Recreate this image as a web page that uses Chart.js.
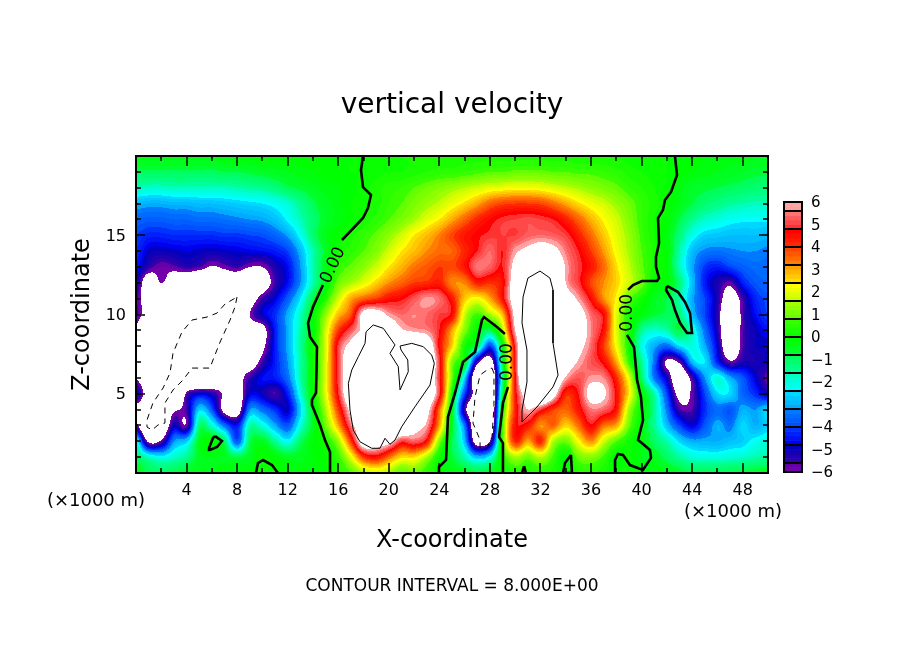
<!DOCTYPE html>
<html><head><meta charset="utf-8">
<script src="https://cdn.jsdelivr.net/npm/chart.js@4"></script>
<style>html,body{margin:0;padding:0;background:#fff}canvas{position:absolute}</style>
</head><body>
<canvas id="main" width="904" height="654" style="left:0;top:0"></canvas>
<canvas id="bar" width="134" height="310" style="left:770px;top:180px"></canvas>
<script>
const FONT='"DejaVu Sans"';
const xTickValues=[4,8,12,16,20,24,28,32,36,40,44,48];
const zTickValues=[5,10,15];
const barTickValues=[6,5,4,3,2,1,0,-1,-2,-3,-4,-5,-6];
const barLevels=[6,5.6,4.8,4,3.2,2.4,1.6,0.8,0,-0.8,-1.6,-2.4,-3.2,-4,-4.8,-5.6,-6];
// colour per box of the scale: [top colour, bottom colour]
const barBoxes=[
 [[255,165,165],[255,160,160]],[[255,115,115],[255,50,50]],[[255,0,0],[255,40,0]],[[255,70,0],[255,125,0]],
 [[255,160,0],[255,220,0]],[[255,255,0],[200,255,0]],[[160,255,0],[100,255,0]],[[55,255,0],[10,255,0]],
 [[0,255,0],[0,255,45]],[[0,255,90],[0,255,150]],[[0,255,190],[0,255,255]],[[0,215,255],[0,170,255]],
 [[0,120,255],[0,80,255]],[[0,50,255],[0,0,240]],[[0,0,190],[50,0,170]],[[100,0,170],[115,0,170]]];

const z00=[-.4,-.9,-1,-.8,-.6,-.4,-.4,-.3,-.4,-.2, .1,.1,-.2,-.3,-.2,0,.4,.8,1.5,1.8, 1.5,.8,1,.5,0,-.3,-.5,-.7,-.5,0, .5,.3,.5,.3,0,.4,.5,.2,0,.1, -.2,-.2,-.4,-.6,-.8,-.8,-.8,-.8,-.7,-.6,-.5];
const z01=[-1,-1.8,-2.2,-1.8,-1.4,-.5,-.4,-.5,-.8,-.5, .1,-.2,-.5,-.5,-.2,0,.6,2,4,4.5, 3.5,2.5,2.5,1.5,.1,-.7,-1.6,-2.8,-2.2,.3, 1.5,1,1.6,.7,-.1,1,1.2,.7,-.1,.1, -.4,-.5,-1,-1.5,-1.9,-2,-2,-1.9,-1.8,-1.6,-1.5];
const z02=[-2,-6.3,-5.8,-3.2,-2.6,-.5,-.1,-1,-3.8,-.9, -.5,-1.4,-2.2,-1,-.2,.3,1.4,4,7,7, 6.5,5,5.3,4.5,1.2,-.8,-2.8,-7,-6,.7, 4.2,3,4.2,1.6,1,2.2,3.2,1.8,.8,.2, -.3,-1,-1.6,-2.5,-3,-3,-3,-2.8,-2.6,-2.2,-2];
const z03=[-5.5,-9,-8,-5,-5.8,-1.2,-1.9,-3.5,-4.5,-1.6, -2,-3,-3.8,-2,-.5,1,3,5.5,7.5,9, 8.5,8,6.5,5.8,3,-.5,-3.5,-8,-8,.6, 4.5,4.4,3.2,3.6,2.6,3.5,4.7,3.5,3,1, -.2,-1.4,-2.8,-4,-4.8,-3.8,-3,-3.4,-2.5,-3,-2.6];
const z04=[-6.5,-8,-8,-6.3,-5.5,-2.6,-3.8,-6.5,-7,-3.2, -3.5,-4.2,-4.9,-2.6,-.4,1.5,4,6.5,9,9, 9,8,6.8,6.5,3.5,-.3,-5.5,-8,-8.5,0, 4.2,6,5,4,3.6,4.4,5.5,5.3,4.4,1.5, 0,-1.4,-3.4,-5.5,-5.6,-4.2,-3.5,-3.8,-3,-3.2,-2.5];
const z05=[-4.8,-7,-9,-9,-5.8,-4.8,-5.2,-6.2,-7,-4.8, -5,-5.6,-4.4,-2,0,2,4.8,7.5,9,9, 9,9,8,7.5,5,.2,-4,-7,-9,-.7, 4.4,7,9,6.8,4.2,4.8,6.5,6.2,4.6,2.4, 0,-1.6,-4,-6.5,-5.8,-4,-2.5,-2.5,-3.6,-4.2,-5];
const z06=[-6,-8,-9,-9,-9,-9,-8,-6.8,-6.6,-5.4, -4.6,-4.4,-3.5,-1.6,0,2,5,7.5,9,9, 9,9,9,7.5,4.9,1,-2.5,-8,-8.5,-1.5, 4.6,9,10,8,5.9,5.2,5.7,5.6,4.2,2, -1,-3.4,-5,-7.5,-5.5,-3.2,-2,-3,-3.8,-4.8,-5.8];
const z07=[-7,-9,-9,-9,-9,-9,-8,-7,-6.4,-7, -5.5,-4.4,-3.2,-1.6,0,2,5,7.5,9,9, 9,9,9,8,5,1.2,-.2,-5.5,-7,-.8, 4.8,9,10,9,7,5.9,5.2,4.6,3,.6, -1.4,-3.5,-6.2,-5.8,-2.8,-2.4,-4.3,-5.8,-5.2,-5.2,-5];
const z08=[-7,-9,-9,-9,-9,-9,-9,-8,-8,-8, -6.4,-4.4,-3,-1.5,.1,1.9,5,6.5,8,9, 9,9,9,7.5,4.6,2.6,.2,-1,-4,-.3, 5,9,10,9,8,6.5,5.4,4,2.2,.2, -2,-3,-3.6,-2.5,-2,-3,-4.8,-7.5,-5.6,-5,-5];
const z09=[-6.2,-9,-9,-9,-9,-9,-9,-9,-7.5,-7, -6.6,-4.4,-3,-1.6,-.2,1.8,4,5.2,6.4,8, 7.5,6.2,5.8,5.6,4.8,3,1.2,-.1,-.9,1.5, 6,8,10,9,8,7,5.6,4.5,2,.3, -1.4,-1.9,-1.6,-.8,-1.9,-3.5,-5.2,-8,-5.6,-5,-4.5];
const z10=[-5.5,-7,-9,-9,-9,-9,-9,-9,-8,-6, -4.9,-4.2,-3,-1.8,-.2,1.3,2.8,3.8,6.5,6.8, 5.8,5.4,5.6,5.4,5,4.6,1.8,.7,1.5,2.8, 6.5,9,11,9,8,6.8,5.4,4.6,2,.3, -.3,-.7,-.9,-1.2,-2.8,-4,-5.4,-8,-5.6,-4.6,-4];
const z11=[-5.5,-7,-8,-9,-9,-9,-9,-9,-9,-7, -5.5,-4.8,-3.7,-2.4,-.8,.4,1.8,3,3.6,4, 4.5,4.7,5.2,5.7,5.4,4.4,2.7,2.2,3,4.5, 7,9,11,9,7,5.8,4.6,3.2,2.3,.9, .2,-.5,-.8,-1.6,-3,-4,-5.2,-7,-5.5,-4.3,-3.9];
const z12=[-5,-7,-6,-7,-7.5,-8,-8,-7.5,-7.5,-8, -7,-5.5,-4.6,-3.2,-1.6,-.3,1,1.5,2,2.6, 3.2,3.6,4,4.1,4.3,3.3,3.3,4.3,4.1,4.5, 7,9,10,9,6,5,3.9,3.2,2.6,1.8, 1,0,-.2,-1.2,-2.8,-4.4,-5.2,-5.7,-4.4,-3.8,-3.6];
const z13=[-4.5,-5.4,-5.8,-5.7,-5.4,-5.6,-6.1,-5.8,-5.5,-6, -6,-5.2,-4.6,-3.2,-1.6,-.4,.5,.9,1.3,1.8, 2.4,2.9,3.4,3.7,4,3.9,4.4,5.5,5.3,4.8, 6.5,8,8.5,8,5.9,5,4.4,3.5,2.5,1.7, .9,.3,-.2,-1.7,-3,-4.1,-4.4,-4,-3.7,-3.5,-3.5];
const z14=[-4.2,-4.9,-5,-4.9,-4.8,-4.9,-5,-4.9,-4.8,-4.7, -4.6,-4.4,-4,-2.9,-1.6,-.6,.2,.5,.8,1.2, 1.8,2.4,2.8,3.2,3.5,3.6,4.2,4.8,5.4,4.8, 5.8,6.4,7,6.5,5.5,4.8,4,3.1,2.2,1.5, .8,.3,-.2,-1.6,-2.8,-3.3,-3.4,-3.3,-3.2,-3.2,-3.3];
const z15=[-4,-4.3,-4.3,-4.2,-4.2,-4.2,-4.2,-4.1,-4.1,-4, -3.9,-3.6,-3.1,-2.2,-1.1,-.4,0,.3,.6,.9, 1.3,1.8,2.4,2.8,3.3,3.9,4.4,4.7,4.9,5, 5,5.3,5.4,5.3,5,4.3,3.5,2.7,2,1.4, .7,.2,-.3,-1.2,-2.1,-2.6,-2.7,-2.8,-2.8,-2.8,-2.9];
const z16=[-3.6,-3.7,-3.7,-3.6,-3.6,-3.5,-3.5,-3.4,-3.3,-3.2, -3.1,-2.8,-2.3,-1.7,-1.1,-.6,-.3,0,.2,.5, .8,1.1,1.5,2,2.4,3,3.6,4.2,4.6,4.9, 5,5.1,5,4.8,4.3,3.6,2.9,2.3,1.8,1.2, .6,.2,-.1,-.8,-1.4,-1.8,-2,-2.2,-2.3,-2.3,-2.3];
const z17=[-2.9,-3,-3,-2.9,-2.9,-2.8,-2.8,-2.7,-2.6,-2.5, -2.4,-2.2,-1.9,-1.4,-.9,-.5,-.3,0,.1,.3, .6,.8,1.1,1.4,1.7,2.1,2.5,3,3.6,3.9, 4,4,3.9,3.5,3,2.5,2.1,1.8,1.4,1, .6,.3,0,-.4,-.8,-1.1,-1.3,-1.5,-1.6,-1.7,-1.7];
const z18=[-1.7,-1.8,-1.8,-1.7,-1.7,-1.7,-1.7,-1.7,-1.6,-1.5, -1.4,-1.2,-.9,-.7,-.5,-.3,-.2,-.1,.1,.3, .5,.6,.8,1,1.2,1.4,1.6,1.8,2,2.1, 2.2,2.2,2.1,1.9,1.7,1.5,1.3,1.1,.9,.6, .4,.2,0,-.3,-.6,-.7,-.8,-.9,-1,-1.1,-1.2];
const z19=[-.9,-.9,-.9,-.9,-.9,-.9,-.9,-.8,-.8,-.7, -.6,-.5,-.4,-.3,-.2,-.1,-.1,0,0,.1, .2,.2,.3,.4,.5,.5,.6,.7,.8,.8, .9,.9,.9,.8,.8,.7,.7,.6,.5,.3, .2,.1,0,-.1,-.2,-.3,-.4,-.5,-.6,-.7,-.7];
const z20=[-.3,-.3,-.3,-.3,-.3,-.3,-.3,-.2,-.2,-.1, -.1,-.1,-.1,-.1,-.1,-.1,-.1,0,0,.1, .1,.2,.2,.2,.2,.3,.3,.3,.3,.3, .3,.3,.3,.3,.3,.2,.2,.2,.2,.1, .1,.1,0,-.1,-.1,-.2,-.2,-.3,-.3,-.4,-.4];
const gridRows=[z00,z01,z02,z03,z04,z05,z06,z07,z08,z09,z10,z11,z12,z13,z14,z15,z16,z17,z18,z19,z20];

// zero contours (heavy)
const zeroA1=[[15.35,0],[15.35,1.32],[14.95,2.08],[14.56,3.03],[13.92,4.29],[13.92,4.61],[14.24,5.05],[14.32,7.95],[13.77,8.58],[13.61,9.46],[14,10.47],[14.79,11.86]];
const zeroA2=[[16.3,14.7],[17.96,16.09],[18.35,16.72],[18.59,17.54],[17.96,18.04],[17.8,19.12],[17.96,20]];
const zeroB1=[[42.64,20],[42.8,18.8],[42.33,17.73],[41.85,17.22],[41.69,16.59],[41.3,16.09],[41.38,14.51],[41.14,13.63],[41.14,13],[41.38,12.3],[41.22,12.11],[40.03,12.11],[39.32,11.86],[38.92,11.55]];
const zeroB2=[[38.84,8.71],[39.4,7.95],[39.64,5.87],[39.95,4.79],[40.11,3.34],[39.72,2.08],[40.11,1.83],[40.66,1.45],[40.74,.95],[40.11,.19],[39.08,.5],[38.53,1.14],[38.13,1.2],[37.9,.82],[37.9,0]];
const zeroC1=[[23.97,0],[23.97,.38],[24.53,.82],[24.68,3.53],[25.24,5.05],[25.87,7],[26.82,7.63],[27.37,9.65],[27.53,9.84],[28.56,9.21],[29.19,8.77]];
const zeroC2=[[29.43,5.43],[29.03,4.42],[28.72,2.27],[29.03,1.89],[29.03,0]];
const zeroD=[[6.25,2.33],[6.8,2.02],[6.41,1.64],[5.85,1.45],[5.78,1.58],[6.09,2.21],[6.25,2.33]];
const zeroE=[[9.49,0],[9.65,.63],[10.05,.82],[10.76,.5],[11.23,0]];
const zeroF=[[42.01,11.8],[42.88,11.42],[43.43,10.79],[43.83,10.09],[43.99,8.83],[43.59,8.83],[43.04,9.46],[42.64,10.28],[42.41,10.91],[41.93,11.55],[42.01,11.8]];
const zeroG=[[34.41,1.14],[33.94,.63],[33.78,0],[34.49,0],[34.41,1.14]];
const zeroH=[[30.7,.44],[30.54,0],[30.85,0],[30.7,.44]];
// +8 contours (thin solid)
const plusA=[[20.49,8.08],[20.09,7.55],[20.75,6.71],[20.89,5.24],[21.54,6.39],[21.5,7.13],[20.97,7.76],[20.89,8.01],[21.81,8.18],[22.73,7.97],[23.39,7.44],[23.6,6.92],[23.26,5.55],[22.07,4.18],[21.02,2.92],[20.49,2.08],[20.09,1.81],[19.7,2.19],[19.3,1.56],[18.65,1.56],[17.72,1.97],[17.19,2.71],[16.93,3.97],[16.8,5.66],[17.07,6.5],[17.59,7.34],[18.12,8.18],[18.2,8.91],[18.77,9.34],[19.56,9.13],[20.49,8.08]];
const plusB=[[31.96,12.74],[32.75,12.3],[32.99,11.55],[32.99,10.28],[32.99,8.2],[33.39,6.18],[32.99,5.43],[31.72,4.16],[30.54,3.22],[30.54,3.97],[30.93,5.74],[30.93,7.76],[30.54,9.46],[30.62,11.1],[31.01,12.3],[31.96,12.74]];
// -8 contours (thin dashed)
const minusA=[[7.99,11.1],[7.83,10.47],[7.44,9.65],[6.65,8.26],[6.09,7.13],[5.85,6.62],[5.06,6.62],[4.43,6.62],[3.72,5.87],[2.93,5.24],[2.29,4.42],[2.29,3.15],[1.74,3.03],[1.27,2.71],[.87,2.9],[.87,3.34],[1.34,4.42],[2.14,5.36],[2.69,6.31],[2.93,7.57],[3.64,8.9],[4.43,9.65],[5.62,9.84],[6.41,10.09],[7.04,10.66],[7.99,11.1]];
const minusB=[[28.16,6.62],[28.32,6.31],[28.32,4.16],[28.16,2.27],[27.77,1.58],[27.22,1.58],[27.22,2.08],[26.66,3.15],[26.82,4.79],[27.22,6.18],[27.77,6.5],[28.16,6.62]];
// inline contour labels: text, x, z, rotation in degrees
const contourLabels=[["0.00",15.6,13.1,-65],["0.00",38.9,10.1,-90],["0.00",29.4,7.0,-90]];

// ---- colour bands
const BAND=0.2;
const bandColors=[];
barBoxes.forEach((box,i)=>{
  const hi=barLevels[i],lo=barLevels[i+1],n=Math.round((hi-lo)/BAND);
  for(let k=0;k<n;k++){const t=n>1?k/(n-1):0;
    bandColors.push(box[0].map((c,j)=>Math.round(c+(box[1][j]-c)*t)));}
});
const toCss=c=>`rgb(${c[0]},${c[1]},${c[2]})`;

function cr(p0,p1,p2,p3,t){return p1+.5*t*(p2-p0+t*(2*p0-5*p1+4*p2-p3+t*(3*(p1-p2)+p3-p0)));}
function gridValue(x,z){
  const nx=gridRows[0].length,nz=gridRows.length;
  const ix=Math.min(nx-2,Math.max(0,Math.floor(x))),iz=Math.min(nz-2,Math.max(0,Math.floor(z)));
  const tx=x-ix,tz=z-iz,cols=[];
  for(let j=-1;j<=2;j++){
    const r=gridRows[Math.min(nz-1,Math.max(0,iz+j))];
    const g=i=>r[Math.min(nx-1,Math.max(0,i))];
    cols.push(cr(g(ix-1),g(ix),g(ix+1),g(ix+2),tx));
  }
  return cr(cols[0],cols[1],cols[2],cols[3],tz);
}
const shadePlugin={id:'shade',beforeDatasetsDraw(chart){
  const a=chart.chartArea,xs=chart.scales.x,ys=chart.scales.y;
  const w=Math.round(a.right-a.left),h=Math.round(a.bottom-a.top);
  const off=document.createElement('canvas');off.width=w;off.height=h;
  const octx=off.getContext('2d'),img=octx.createImageData(w,h);
  for(let py=0;py<h;py++){
    const z=ys.getValueForPixel(a.top+py+.5);
    for(let px=0;px<w;px++){
      const x=xs.getValueForPixel(a.left+px+.5),v=gridValue(x,z),o=(py*w+px)*4;
      let c=[255,255,255];
      if(Math.abs(v)<=6){c=bandColors[Math.min(bandColors.length-1,Math.floor((6-v)/BAND))];}
      img.data[o]=c[0];img.data[o+1]=c[1];img.data[o+2]=c[2];img.data[o+3]=255;
    }
  }
  octx.putImageData(img,0,0);
  chart.ctx.drawImage(off,a.left,a.top);
}};
const framePlugin={id:'frame',afterDatasetsDraw(chart){
  const c=chart.ctx,a=chart.chartArea,xs=chart.scales.x,ys=chart.scales.y;
  c.save();c.strokeStyle='#000';
  c.lineWidth=1.5;
  for(let v=2;v<50;v+=2){const p=Math.round(xs.getPixelForValue(v)),L=v%4===0?10:5;
    c.beginPath();c.moveTo(p,a.bottom);c.lineTo(p,a.bottom-L);c.moveTo(p,a.top);c.lineTo(p,a.top+L);c.stroke();}
  for(let v=1;v<20;v++){const p=Math.round(ys.getPixelForValue(v)),L=v%5===0?9:5;
    c.beginPath();c.moveTo(a.left,p);c.lineTo(a.left+L,p);c.moveTo(a.right,p);c.lineTo(a.right-L,p);c.stroke();}
  c.lineWidth=2;c.strokeRect(a.left,a.top,a.right-a.left,a.bottom-a.top);
  // inline contour labels
  c.fillStyle='#000';c.font='17px '+FONT;c.textAlign='center';c.textBaseline='middle';
  contourLabels.forEach(l=>{c.save();c.translate(xs.getPixelForValue(l[1]),ys.getPixelForValue(l[2]));
    c.rotate(l[3]*Math.PI/180);c.fillText(l[0],0,0);c.restore();});
  // free-standing text
  c.font='18px '+FONT;c.fillText('(×1000 m)',96,501);c.fillText('(×1000 m)',733,512);
  c.font='17px '+FONT;c.fillText('CONTOUR INTERVAL = 8.000E+00',452,587);
  c.restore();
}};
const line=(label,pts,width,dash)=>({type:'scatter',label,showLine:true,data:pts.map(p=>({x:p[0],y:p[1]})),
  borderColor:'#000',borderWidth:width,borderDash:dash||[],pointRadius:0,tension:0,fill:false,order:1});
const cells=[];gridRows.forEach((r,j)=>r.forEach((v,i)=>cells.push({x:i,y:j,v})));
new Chart(document.getElementById('main'),{
  type:'scatter',
  data:{datasets:[
    {label:'vertical velocity',data:cells,pointRadius:0,showLine:false},
    ...[zeroA1,zeroA2,zeroB1,zeroB2,zeroC1,zeroC2,zeroD,zeroE,zeroF,zeroG,zeroH].map((p,i)=>line('0.00 #'+i,p,2.6)),
    ...[plusA,plusB].map((p,i)=>line('+8 #'+i,p,1)),
    ...[minusA,minusB].map((p,i)=>line('-8 #'+i,p,1,[6,5]))
  ]},
  options:{responsive:false,animation:false,devicePixelRatio:1,
    layout:{padding:0},
    plugins:{legend:{display:false},tooltip:{enabled:false},
      title:{display:true,text:'vertical velocity',color:'#000',font:{family:FONT,size:28,weight:'normal',lineHeight:1.2},padding:{top:89,bottom:33.4}}},
    scales:{
      x:{type:'linear',min:0,max:50,grid:{display:false,drawTicks:false},border:{display:false},
        afterBuildTicks:s=>{s.ticks=xTickValues.map(v=>({value:v}));},
        afterFit:s=>{s.height=181;},
        ticks:{color:'#000',maxRotation:0,autoSkip:false,padding:8,font:{family:FONT,size:16}},
        title:{display:true,text:'X-coordinate',color:'#000',font:{family:FONT,size:24,lineHeight:1.2},padding:{top:0,bottom:98.6}}},
      y:{type:'linear',min:0,max:20,grid:{display:false,drawTicks:false},border:{display:false},
        afterBuildTicks:s=>{s.ticks=zTickValues.map(v=>({value:v}));},
        afterFit:s=>{s.width=136;},
        ticks:{color:'#000',padding:10,labelOffset:1.5,font:{family:FONT,size:16}},
        title:{display:true,text:'Z-coordinate',color:'#000',font:{family:FONT,size:24,lineHeight:1.2},padding:{top:68.6,bottom:0}}},
      right:{type:'linear',position:'right',min:0,max:20,display:true,grid:{display:false,drawTicks:false},border:{display:false},
        ticks:{display:false},afterFit:s=>{s.width=136;}}
    }},
  plugins:[shadePlugin,framePlugin]
});
// ---- colour scale
const barSegs=[];let lv=6;bandColors.forEach(c=>{barSegs.push({lo:+(lv-BAND).toFixed(2),hi:+lv.toFixed(2),c});lv-=BAND;});
const barLines={id:'barLines',afterDatasetsDraw(chart){
  const c=chart.ctx,a=chart.chartArea,ys=chart.scales.y;
  c.save();c.strokeStyle='#000';c.lineWidth=2;
  barLevels.forEach(v=>{const p=Math.round(ys.getPixelForValue(v));c.beginPath();c.moveTo(a.left,p);c.lineTo(a.right,p);c.stroke();});
  c.strokeRect(a.left,a.top,a.right-a.left,a.bottom-a.top);c.restore();
}};
new Chart(document.getElementById('bar'),{
  type:'bar',
  data:{labels:['scale'],datasets:barSegs.map(s=>({label:String(s.hi),data:[[s.lo,s.hi]],backgroundColor:toCss(s.c),borderWidth:0,
    grouped:false,barPercentage:1,categoryPercentage:1}))},
  options:{responsive:false,animation:false,devicePixelRatio:1,
    layout:{padding:{left:14,right:0,top:22,bottom:17}},
    plugins:{legend:{display:false},tooltip:{enabled:false},title:{display:false}},
    scales:{
      x:{display:false},
      y:{position:'right',min:-6,max:6,grid:{display:false,drawTicks:false},border:{display:false},
        afterBuildTicks:s=>{s.ticks=barTickValues.map(v=>({value:v}));},
        afterFit:s=>{s.width=102;},
        ticks:{color:'#000',padding:9,labelOffset:1.5,font:{family:FONT,size:15},callback:v=>String(v).replace('-','−')}}
    }},
  plugins:[barLines]
});
</script>
</body></html>
